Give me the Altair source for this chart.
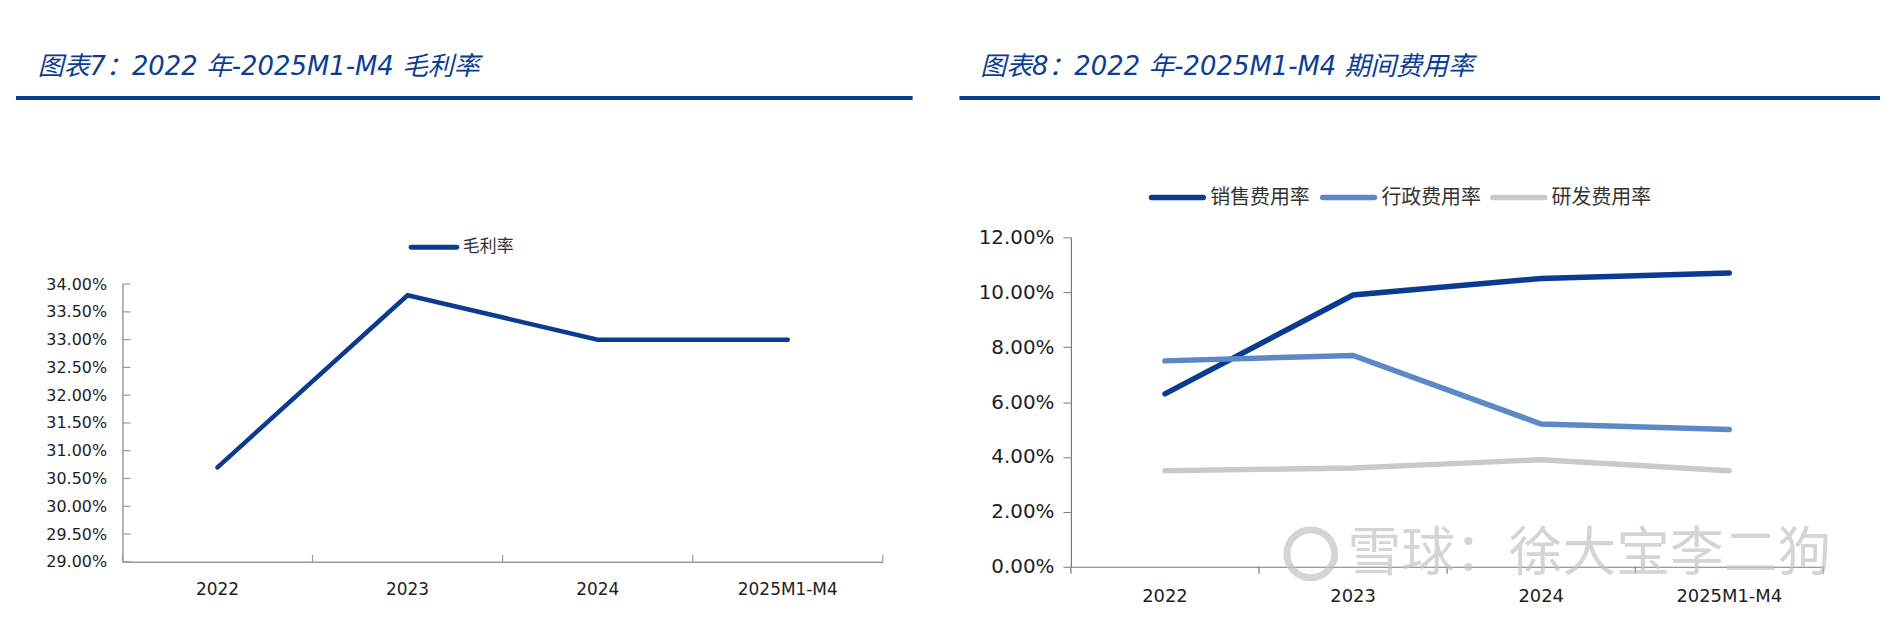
import altair as alt
import pandas as pd

# ---------------- data ----------------
categories = ["2022", "2023", "2024", "2025M1-M4"]
gross_margin = [0.307, 0.338, 0.330, 0.330]
sales_rate = [0.063, 0.099, 0.105, 0.107]
admin_rate = [0.075, 0.077, 0.052, 0.050]
rd_rate = [0.035, 0.036, 0.039, 0.035]
left_ticks = [0.29, 0.295, 0.30, 0.305, 0.31, 0.315, 0.32, 0.325, 0.33, 0.335, 0.34]
right_ticks = [0.0, 0.02, 0.04, 0.06, 0.08, 0.10, 0.12]
series_names = ["销售费用率", "行政费用率", "研发费用率"]
left_title = "图表7：2022 年-2025M1-M4 毛利率"
right_title = "图表8：2022 年-2025M1-M4 期间费用率"
left_series = "毛利率"
watermark = "雪球：徐大宝李二狗"

# ---------------- style ----------------
TITLE_BLUE = "#0B3D93"
DARK_BLUE = "#0A3B90"
MID_BLUE = "#5C88C6"
LIGHT_GRAY = "#C9C9C9"
AXIS_L = "#9A9A9A"
AXIS_R = "#7A7A7A"
LABEL = "#1E1E1E"
LATIN = "DejaVu Sans, Noto Sans CJK SC"
CJK = "Noto Sans CJK SC"
series_colors = [DARK_BLUE, MID_BLUE, LIGHT_GRAY]

# both panels share the same plot origin (top = 237 px on the page)
W1, H1 = 764, 326
LEFT_TOP = 47          # left value axis starts 47 px below the panel origin
W2, H2 = 756, 331

one = pd.DataFrame({"k": [0]})


def text_layer(txt, x, y, size, color, font, italic=False, align="left", opacity=1.0):
    kw = dict(text=txt, align=align, baseline="middle", fontSize=size, color=color,
              font=font, opacity=opacity)
    if italic:
        kw["fontStyle"] = "italic"
    return alt.Chart(one).mark_text(**kw).encode(x=alt.value(x), y=alt.value(y))


def hrule(x1, x2, y, color, width, cap="butt"):
    return alt.Chart(one).mark_rule(color=color, strokeWidth=width, strokeCap=cap).encode(
        x=alt.value(x1), x2=alt.value(x2), y=alt.value(y))


def vrule(x, y1, y2, color, width=1):
    return alt.Chart(one).mark_rule(color=color, strokeWidth=width).encode(
        x=alt.value(x), y=alt.value(y1), y2=alt.value(y2))


# ================= left panel =================
xs1 = alt.Scale(type="band", domain=categories, paddingInner=0, paddingOuter=0)
ys1 = alt.Scale(domain=[0.29, 0.34], nice=False, zero=False, range=[H1, LEFT_TOP])
xax1 = alt.Axis(title=None, labelAngle=0, ticks=False, tickSize=0, grid=False,
                domainColor=AXIS_L, domainWidth=1.5, labelFont=LATIN, labelFontSize=17,
                labelColor=LABEL, labelPadding=20)
yax1 = alt.Axis(title=None, values=left_ticks, format=".2%", ticks=False, tickSize=0,
                grid=False, domainColor=AXIS_L, domainWidth=1.5, labelFont=LATIN,
                labelFontSize=16, labelColor=LABEL, labelPadding=16)

df1 = pd.DataFrame({"cat": categories, "value": gross_margin})
line1 = alt.Chart(df1).mark_line(color=DARK_BLUE, strokeWidth=4.5, strokeCap="round").encode(
    x=alt.X("cat:N", scale=xs1, sort=categories, axis=xax1),
    y=alt.Y("value:Q", scale=ys1, axis=yax1),
)
xt1 = alt.Chart(pd.DataFrame({"cat": categories})).mark_rule(color=AXIS_L, strokeWidth=1.2).encode(
    x=alt.X("cat:N", scale=xs1, sort=categories, axis=xax1, bandPosition=0),
    y=alt.value(H1), y2=alt.value(H1 - 7),
)
yt1 = alt.Chart(pd.DataFrame({"value": left_ticks})).mark_rule(color=AXIS_L, strokeWidth=1.2).encode(
    y=alt.Y("value:Q", scale=ys1, axis=yax1),
    x=alt.value(0), x2=alt.value(8),
)
left = alt.layer(
    hrule(-107, 794, -140, TITLE_BLUE, 4),
    text_layer(left_title, -85, -171, 26, TITLE_BLUE, LATIN, italic=True),
    xt1, yt1, line1,
    hrule(290, 336, 10, DARK_BLUE, 5, cap="round"),
    text_layer(left_series, 342, 10, 17, "#333333", CJK),
    vrule(W1, H1, H1 - 7, AXIS_L, 1.2),
).properties(width=W1, height=H1)

# ================= right panel =================
xs2 = alt.Scale(type="band", domain=categories, paddingInner=0, paddingOuter=0)
ys2 = alt.Scale(domain=[0.0, 0.12], nice=False, zero=True)
xax2 = alt.Axis(title=None, labelAngle=0, ticks=False, tickSize=0, grid=False,
                domainColor=AXIS_R, domainWidth=1.2, labelFont=LATIN, labelFontSize=18,
                labelColor=LABEL, labelPadding=21)
yax2 = alt.Axis(title=None, values=right_ticks, format=".2%", ticks=True, tickSize=8,
                tickColor=AXIS_R, grid=False, domainColor=AXIS_R, domainWidth=1.2,
                labelFont=LATIN, labelFontSize=20, labelColor=LABEL, labelPadding=9)

rows = []
for name, vals in zip(series_names, [sales_rate, admin_rate, rd_rate]):
    for c, v in zip(categories, vals):
        rows.append({"cat": c, "value": v, "series": name})
df2 = pd.DataFrame(rows)

line2 = alt.Chart(df2).mark_line(strokeWidth=5.5, strokeCap="round").encode(
    x=alt.X("cat:N", scale=xs2, sort=categories, axis=xax2),
    y=alt.Y("value:Q", scale=ys2, axis=yax2),
    color=alt.Color("series:N", scale=alt.Scale(domain=series_names, range=series_colors),
                    legend=None),
    order=alt.Order("cat_order:Q"),
).transform_calculate(
    cat_order="indexof(%s, datum.cat)" % str(categories)
)
xt2 = alt.Chart(pd.DataFrame({"cat": categories})).mark_rule(color=AXIS_R, strokeWidth=1.2).encode(
    x=alt.X("cat:N", scale=xs2, sort=categories, axis=xax2, bandPosition=0),
    y=alt.value(H2), y2=alt.value(H2 + 7),
)

legend_layers = []
leg_line_x = [81, 253, 424]
for i, (name, col) in enumerate(zip(series_names, series_colors)):
    lx = leg_line_x[i]
    legend_layers.append(hrule(lx, lx + 52, -40, col, 5.5, cap="round"))
    legend_layers.append(text_layer(name, lx + 59, -40, 20, "#333333", CJK))

logo = alt.Chart(one).mark_point(shape="circle", filled=False, size=2300, strokeWidth=7,
                                 color="#C4C4C4", opacity=0.7).encode(
    x=alt.value(241), y=alt.value(318))

right = alt.layer(
    hrule(-112, 813, -140, TITLE_BLUE, 4),
    text_layer(right_title, -91, -171, 26, TITLE_BLUE, LATIN, italic=True),
    xt2, vrule(W2, H2, H2 + 7, AXIS_R, 1.2), line2,
    *legend_layers,
    logo,
    text_layer(watermark, 278, 319, 54, "#C4C4C4", CJK, opacity=0.7),
).properties(width=W2, height=H2)

chart = alt.hconcat(left, right, spacing=43).properties(
    padding={"left": 6, "top": 45, "right": 5, "bottom": 5}
).configure_view(stroke=None)

chart.save("out.html", embed_options={"renderer": "svg", "actions": False})
